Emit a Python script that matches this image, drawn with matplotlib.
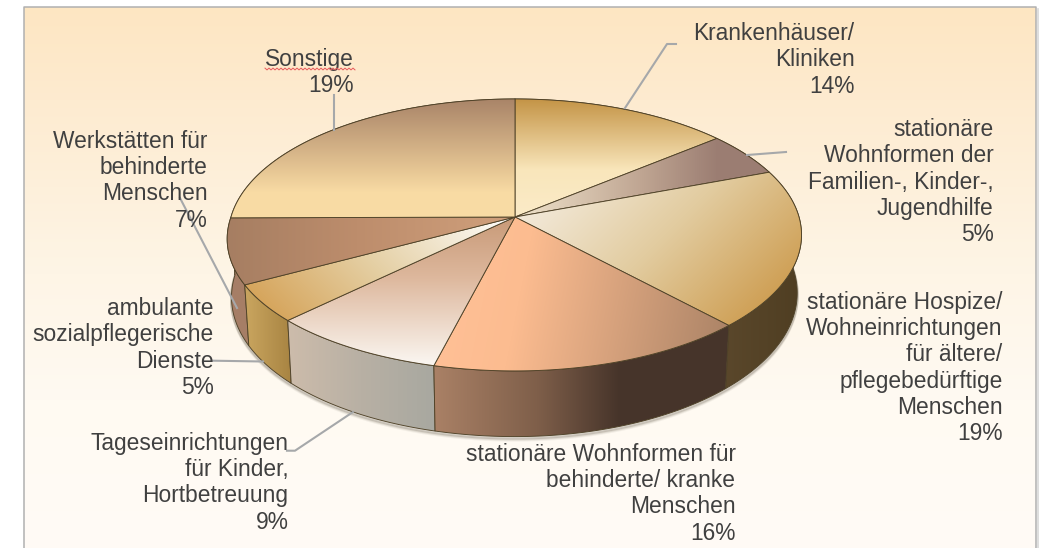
import numpy as np
import matplotlib
matplotlib.use("Agg")
import matplotlib.pyplot as plt
from matplotlib.colors import to_rgb
from matplotlib.patches import Polygon

# ---- data ----
categories = [
    ["Krankenhäuser/", "Kliniken"],
    ["stationäre", "Wohnformen der", "Familien-, Kinder-,", "Jugendhilfe"],
    ["stationäre Hospize/", "Wohneinrichtungen", "für ältere/", "pflegebedürftige", "Menschen"],
    ["stationäre Wohnformen für", "behinderte/ kranke", "Menschen"],
    ["Tageseinrichtungen", "für Kinder,", "Hortbetreuung"],
    ["ambulante", "sozialpflegerische", "Dienste"],
    ["Werkstätten für", "behinderte", "Menschen"],
    ["Sonstige"],
]
percent_labels = ["14%", "5%", "19%", "16%", "9%", "5%", "7%", "19%"]
# the drawn slice sizes (share of the full circle) differ slightly from the printed labels
drawn_shares = [14.0, 5.3, 18.8, 15.8, 8.7, 4.5, 7.8, 25.1]

# ---- styling ----
label_right = [854.5, 993.5, 1002.5, 735.5, 288.5, 213.5, 207.5, 353.5]
label_first_baseline = [40, 136, 308.7, 460.7, 449.7, 315, 147.7, 66]
LINE_PITCH = 26.35
TEXT_COLOR = "#404040"
EDGE = "#4f4228"
LEADER = "#a6a8aa"

top_fills = [
    ((0, 1), [(0, "#c49446"), (.6, "#f9e6bb"), (1, "#fbebc8")]),
    ((1, 0), [(0, "#f0e4cc"), (.5, "#bfa592"), (.8, "#9b7d72"), (1, "#9b7d72")]),
    ((1, 1), [(0, "#f3eadb"), (.5, "#e2cca0"), (1, "#cfa056")]),
    ((1, .2), [(0, "#ffc096"), (.25, "#fcbc90"), (1, "#ac8467")]),
    ((0, 1), [(0, "#c89a78"), (.4, "#ddb79c"), (1, "#fbf7f2")]),
    ((-1, 1), [(0, "#ffffff"), (.55, "#e5d0a5"), (1, "#d6a55c")]),
    ((1, 0), [(0, "#a67e62"), (.45, "#bd8d6c"), (1, "#d0a07c")]),
    ((0, 1), [(0, "#a98468"), (.6, "#e6c694"), (.78, "#f8dba4"), (1, "#f8dba4")]),
]
wall_fills = [
    [(0, "#b08c50"), (1, "#b08c50")],
    [(0, "#7a6050"), (1, "#7a6050")],
    [(0, "#5a472b"), (1, "#4f3e22")],
    [(0, "#aa8166"), (.35, "#7f5f4a"), (.63, "#46342a"), (1, "#46342a")],
    [(0, "#cdbcab"), (.5, "#b8b0a4"), (1, "#a8a8a0")],
    [(0, "#caa660"), (1, "#a88442")],
    [(0, "#a67e66"), (1, "#a67e66")],
    [(0, "#a07860"), (1, "#a07860")],
]

W, H = 1043, 548
CX, CY = 515.0, 217.0         # apex of the slices on screen
K = -0.132                    # perspective strength
AY, BX = 133.6, 284.0         # vertical / horizontal scale of the top face
DEPTH, BOTTOM_SCALE = 57.0, 0.985
LOWER_LEFT_BULGE = 9.0        # the face leans slightly toward the lower left

plt.rcParams["font.family"] = ["Liberation Sans", "DejaVu Sans"]
fig = plt.figure(figsize=(W / 100, H / 100), dpi=100, facecolor="white")
ax = fig.add_axes([0, 0, 1, 1])
yy, xx = np.mgrid[0:H, 0:W] + 0.5


def rim(theta, bottom=False):
    u, v = np.sin(theta), -np.cos(theta)
    w = 1 + K * v
    x, y = CX + BX * u / w, CY + AY * v / w
    x = x - LOWER_LEFT_BULGE * np.clip(-u, 0, None) * np.clip(v, 0, None)
    if bottom:
        x = CX + BOTTOM_SCALE * (x - CX)
        y = y + DEPTH / w
    return x, y


def gradient(poly, direction, stops, zorder):
    d = np.asarray(direction, float)
    d /= np.hypot(*d)
    p = poly[:, 0] * d[0] + poly[:, 1] * d[1]
    t = (xx * d[0] + yy * d[1] - p.min()) / (p.max() - p.min())
    pos = [s[0] for s in stops]
    cols = np.array([to_rgb(s[1]) for s in stops])
    img = np.dstack([np.interp(t, pos, cols[:, i]) for i in range(3)])
    im = ax.imshow(img, extent=(0, W, H, 0), aspect="auto", zorder=zorder,
                   interpolation="bilinear")
    patch = Polygon(poly, closed=True, transform=ax.transData, fc="none", ec="none")
    ax.add_patch(patch)
    im.set_clip_path(patch)
    ax.add_patch(Polygon(poly, closed=True, fc="none", ec=EDGE, lw=0.65,
                         zorder=zorder + 0.1, joinstyle="round"))


# background panel
FL, FR, FT = 24, 1036, 7
bg_y = [0, 7, 100, 274, 400, 548]
bg_c = np.array([to_rgb(c) for c in ["#fde6c2", "#fde6c2", "#fdebd0", "#fef5e6", "#fffaf2", "#fffbf6"]])
panel = np.dstack([np.interp(yy, bg_y, bg_c[:, i]) for i in range(3)])
panel[(xx < FL) | (xx > FR) | (yy < FT)] = 1.0
ax.imshow(panel, extent=(0, W, H, 0), aspect="auto", zorder=0, interpolation="nearest")
ax.plot([FL, FL, FR, FR], [H, FT, FT, H], color="#b0b0b0", lw=1.1, zorder=1)
ax.plot([FR + 1.5, FR + 1.5], [FT + 2, H], color="#d8d8d8", lw=1.2, zorder=1)

# slice angles come from the shares
shares = np.asarray(drawn_shares, float)
edges = np.concatenate([[0], np.cumsum(shares) / shares.sum()]) * 2 * np.pi

# soft shadow under the cake
full = np.linspace(np.pi * .45, np.pi * 1.55, 200)
sx, sy = rim(full, bottom=True)
for off, a in [(3.5, .06), (2.5, .10), (1.5, .16)]:
    ax.plot(sx, sy + off, color="#3a3020", alpha=a, lw=2.2, zorder=2)

# side walls first, back to front, then the top faces
order = np.argsort([-np.cos((edges[i] + edges[i + 1]) / 2) for i in range(len(shares))])
for i in order:
    th = np.linspace(edges[i], edges[i + 1], 120)
    x0, y0 = rim(th)
    x1, y1 = rim(th, bottom=True)
    poly = np.column_stack([np.r_[x0, x1[::-1]], np.r_[y0, y1[::-1]]])
    gradient(poly, (1, 0), wall_fills[i], 3 + 0.2 * list(order).index(i))

for i in range(len(shares)):
    th = np.linspace(edges[i], edges[i + 1], 200)
    x0, y0 = rim(th)
    poly = np.column_stack([np.r_[CX, x0], np.r_[CY, y0]])
    d, stops = top_fills[i]
    gradient(poly, d, stops, 6 + 0.2 * i)

# leader lines
leaders = [
    ([676, 667, 625], [44, 44, 108]),
    ([786, 747], [152, 155]),
    ([180, 237], [198, 308]),
    ([213, 263], [360.7, 361.5]),
    ([287, 295, 353], [450.7, 450.7, 412]),
    ([334, 334], [95, 130]),
]
for lx, ly in leaders:
    ax.plot(lx, ly, color=LEADER, lw=1.5, zorder=9, solid_joinstyle="round")

# labels
for lines, pct, rx, by in zip(categories, percent_labels, label_right, label_first_baseline):
    for j, s in enumerate(list(lines) + [pct]):
        ax.text(rx, by + j * LINE_PITCH, s, ha="right", va="baseline", fontsize=16.4,
                color=TEXT_COLOR, zorder=10)

# spell-check squiggle below "Sonstige"
wx = np.arange(265, 355.5, 2.0)
wy = 69 + np.where(np.arange(wx.size) % 2 == 0, -0.9, 0.9)
ax.plot(wx, wy, color="#e8585a", lw=0.7, zorder=11)

ax.set_xlim(0, W)
ax.set_ylim(H, 0)
ax.axis("off")
fig.savefig("out.png", dpi=100)
